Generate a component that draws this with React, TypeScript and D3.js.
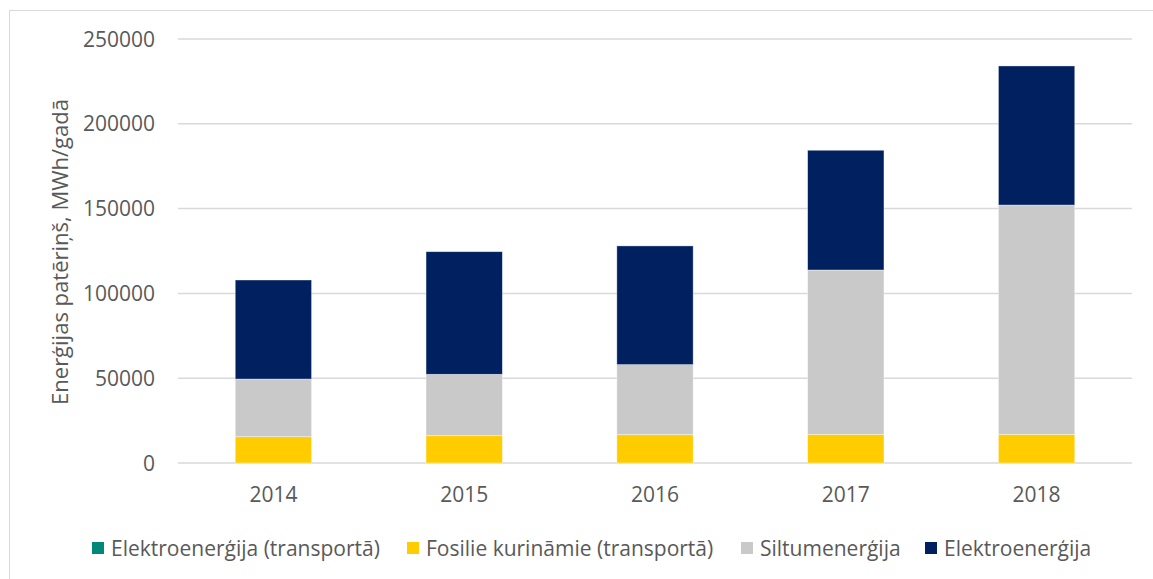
import React from "react";
import * as d3 from "d3";

const years = ["2014", "2015", "2016", "2017", "2018"];
// MWh/gadā
const elTransport = [0, 0, 0, 0, 0];
const fossilTransport = [15500, 16100, 16700, 16900, 16900];
const heat = [34000, 36200, 41300, 96900, 135200];
const electricity = [58400, 72300, 70000, 70600, 82000];
const yTicks = [0, 50000, 100000, 150000, 200000, 250000];

const seriesNames = [
  "Elektroenerģija (transportā)",
  "Fosilie kurināmie (transportā)",
  "Siltumenerģija",
  "Elektroenerģija",
];
const seriesColors = ["#00897b", "#ffcc00", "#c9c9c9", "#002060"];
const legendX = [92, 407, 741, 925];

const W = 1153;
const H = 579;
const FONT = "'Open Sans', sans-serif";

export default function App() {
  const rows = years.map((y, i) => ({
    year: y,
    s0: elTransport[i],
    s1: fossilTransport[i],
    s2: heat[i],
    s3: electricity[i],
  }));
  const stacked = d3.stack<any>().keys(["s0", "s1", "s2", "s3"])(rows);

  const x = d3
    .scaleBand()
    .domain(years)
    .range([178, 1132])
    .paddingInner(0.6)
    .paddingOuter(0.3);
  const y = d3.scaleLinear().domain([0, 250000]).range([463, 39]);

  return (
    <svg
      width={W}
      height={H}
      style={{ position: "absolute", left: 0, top: 0, background: "#fff" }}
      fontFamily={FONT}
    >
      <rect x={9.5} y={10.5} width={W + 20} height={H + 20} fill="#fff" stroke="#d9d9d9" />
      {yTicks.map((t) => (
        <g key={t}>
          <line x1={178} x2={1132} y1={y(t)} y2={y(t)} stroke="#d9d9d9" strokeWidth={1.5} />
          <text x={155} y={y(t)} dy="0.36em" textAnchor="end" fontSize={21} fill="#595959">
            {t}
          </text>
        </g>
      ))}
      {stacked.map((layer, si) => (
        <g key={si} fill={seriesColors[si]}>
          {layer.map((d, i) =>
            d[1] - d[0] > 0 ? (
              <rect
                key={i}
                x={x(years[i])}
                width={x.bandwidth()}
                y={y(d[1])}
                height={y(d[0]) - y(d[1])}
                stroke="#fff"
                strokeOpacity={0.5}
                strokeWidth={0.75}
              />
            ) : null
          )}
        </g>
      ))}
      {years.map((yr) => (
        <text
          key={yr}
          x={(x(yr) as number) + x.bandwidth() / 2}
          y={494}
          dy="0.36em"
          textAnchor="middle"
          fontSize={21}
          fill="#595959"
        >
          {yr}
        </text>
      ))}
      <text
        transform="translate(60,252) rotate(-90)"
        textAnchor="middle"
        dy="0.36em"
        fontSize={22}
        fill="#595959"
      >
        Enerģijas patēriņš, MWh/gadā
      </text>
      {seriesNames.map((n, i) => (
        <g key={n}>
          <rect x={legendX[i]} y={542} width={12} height={12} fill={seriesColors[i]} />
          <text x={legendX[i] + 19} y={548} dy="0.36em" fontSize={21} fill="#595959">
            {n}
          </text>
        </g>
      ))}
    </svg>
  );
}
